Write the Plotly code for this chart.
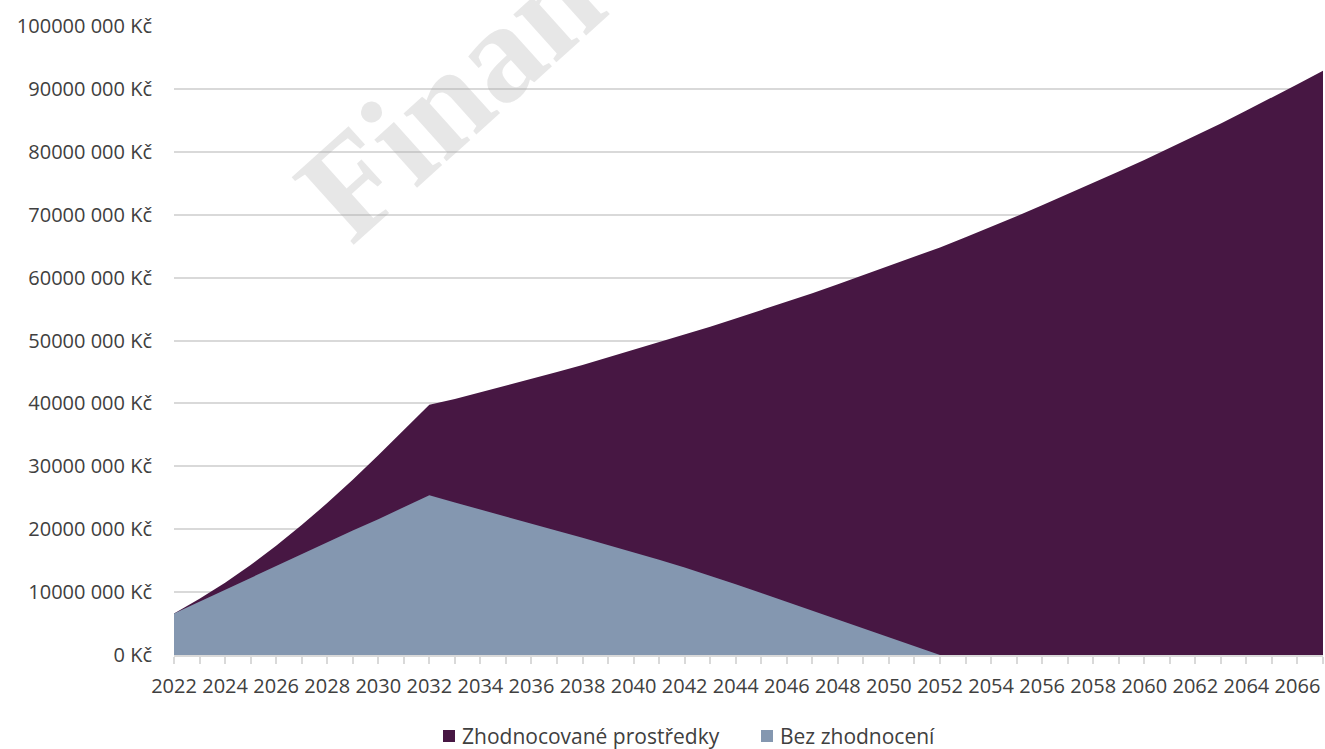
import plotly.graph_objects as go

# Years on the horizontal axis
years = [2022, 2023, 2024, 2025, 2026, 2027, 2028, 2029, 2030, 2031,
         2032, 2033, 2034, 2035, 2036, 2037, 2038, 2039, 2040, 2041,
         2042, 2043, 2044, 2045, 2046, 2047, 2048, 2049, 2050, 2051,
         2052, 2053, 2054, 2055, 2056, 2057, 2058, 2059, 2060, 2061,
         2062, 2063, 2064, 2065, 2066, 2067]

# Invested savings, millions of CZK
zhodnocovane_mil = [6.6, 8.95, 11.5, 14.3, 17.35, 20.65, 24.15, 27.85, 31.75, 35.75,
                    39.8, 40.7, 41.75, 42.8, 43.9, 45.0, 46.1, 47.3, 48.5, 49.7,
                    50.9, 52.2, 53.5, 54.8, 56.15, 57.5, 58.95, 60.4, 61.85, 63.3,
                    64.8, 66.4, 68.05, 69.75, 71.5, 73.25, 75.0, 76.85, 78.7, 80.6,
                    82.55, 84.5, 86.55, 88.6, 90.75, 92.9]

# Savings without any return, millions of CZK
bez_zhodnoceni_mil = [6.6, 8.5, 10.4, 12.2, 14.1, 16.0, 17.9, 19.8, 21.6, 23.5,
                      25.4, 24.25, 23.1, 21.95, 20.85, 19.75, 18.65, 17.5, 16.35, 15.15,
                      13.9, 12.6, 11.25, 9.85, 8.45, 7.0, 5.6, 4.15, 2.75, 1.35,
                      0, 0, 0, 0, 0, 0, 0, 0, 0, 0,
                      0, 0, 0, 0, 0, 0]

series_names = ["Zhodnocované prostředky", "Bez zhodnocení"]
series_colors = ["#471743", "#8497B0"]

y_tick_values = [0, 10e6, 20e6, 30e6, 40e6, 50e6, 60e6, 70e6, 80e6, 90e6, 100e6]
y_tick_labels = ["0 Kč", "10000 000 Kč", "20000 000 Kč", "30000 000 Kč",
                 "40000 000 Kč", "50000 000 Kč", "60000 000 Kč", "70000 000 Kč",
                 "80000 000 Kč", "90000 000 Kč", "100000 000 Kč"]
x_tick_values = years[::2]
x_tick_labels = [str(y) for y in x_tick_values]

FONT = "Open Sans"
TEXT_COLOR = "#404040"
GRID_COLOR = "#D9D9D9"

W, H = 1325, 749
M_L, M_R, M_T, M_B = 174, 2, 26, 94
PLOT_W = W - M_L - M_R
PLOT_H = H - M_T - M_B


def px_x(px):
    """Page pixel column -> paper x."""
    return (px - M_L) / PLOT_W


def px_y(py):
    """Page pixel row -> paper y."""
    return (H - M_B - py) / PLOT_H


fig = go.Figure()

for name, vals, color in zip(series_names,
                             [zhodnocovane_mil, bez_zhodnoceni_mil],
                             series_colors):
    fig.add_trace(go.Scatter(
        x=years,
        y=[v * 1e6 for v in vals],
        name=name,
        mode="lines",
        line=dict(width=0, color=color),
        fill="tozeroy",
        fillcolor=color,
        showlegend=False,
        hoverinfo="x+y",
    ))

# Legend below the plot: square key + label for each series
legend_keys = [(443, 462), (761, 780)]
for (key_left, text_left), name, color in zip(legend_keys, series_names, series_colors):
    fig.add_shape(
        type="rect", xref="paper", yref="paper",
        x0=px_x(key_left), x1=px_x(key_left + 12),
        y0=px_y(742), y1=px_y(730),
        fillcolor=color, line=dict(width=0),
    )
    fig.add_annotation(
        text=name, xref="paper", yref="paper",
        x=px_x(text_left - 2), y=px_y(736),
        xanchor="left", yanchor="middle", showarrow=False,
        font=dict(family=FONT, size=21, color=TEXT_COLOR),
    )

# Background watermark
fig.add_annotation(
    text="<b>Finanční</b>",
    xref="paper", yref="paper",
    x=px_x(516), y=px_y(34),
    xanchor="center", yanchor="middle",
    showarrow=False,
    textangle=-42,
    font=dict(family="Liberation Serif", size=140, color="rgba(170,170,170,0.28)"),
)

fig.update_layout(
    width=W,
    height=H,
    paper_bgcolor="white",
    plot_bgcolor="white",
    margin=dict(l=M_L, r=M_R, t=M_T, b=M_B),
    font=dict(family=FONT, size=20, color=TEXT_COLOR),
    showlegend=False,
    xaxis=dict(
        range=[2022, 2067],
        tickmode="array",
        tickvals=x_tick_values,
        ticktext=x_tick_labels,
        ticks="outside",
        ticklen=7,
        tickcolor=GRID_COLOR,
        tickwidth=1.5,
        minor=dict(dtick=1, tick0=2022, ticks="outside", ticklen=7,
                   tickcolor=GRID_COLOR, tickwidth=1.5, showgrid=False),
        showline=True,
        linecolor=GRID_COLOR,
        linewidth=1.5,
        showgrid=False,
        zeroline=False,
        tickfont=dict(family=FONT, size=20, color=TEXT_COLOR),
        ticklabelstandoff=5,
    ),
    yaxis=dict(
        range=[0, 100e6],
        tickmode="array",
        tickvals=y_tick_values,
        ticktext=y_tick_labels,
        showgrid=True,
        gridcolor=GRID_COLOR,
        gridwidth=2,
        zeroline=False,
        showline=False,
        ticks="",
        tickfont=dict(family=FONT, size=20, color=TEXT_COLOR),
        ticklabelstandoff=21,
    ),
)

fig.write_html("out.html")
